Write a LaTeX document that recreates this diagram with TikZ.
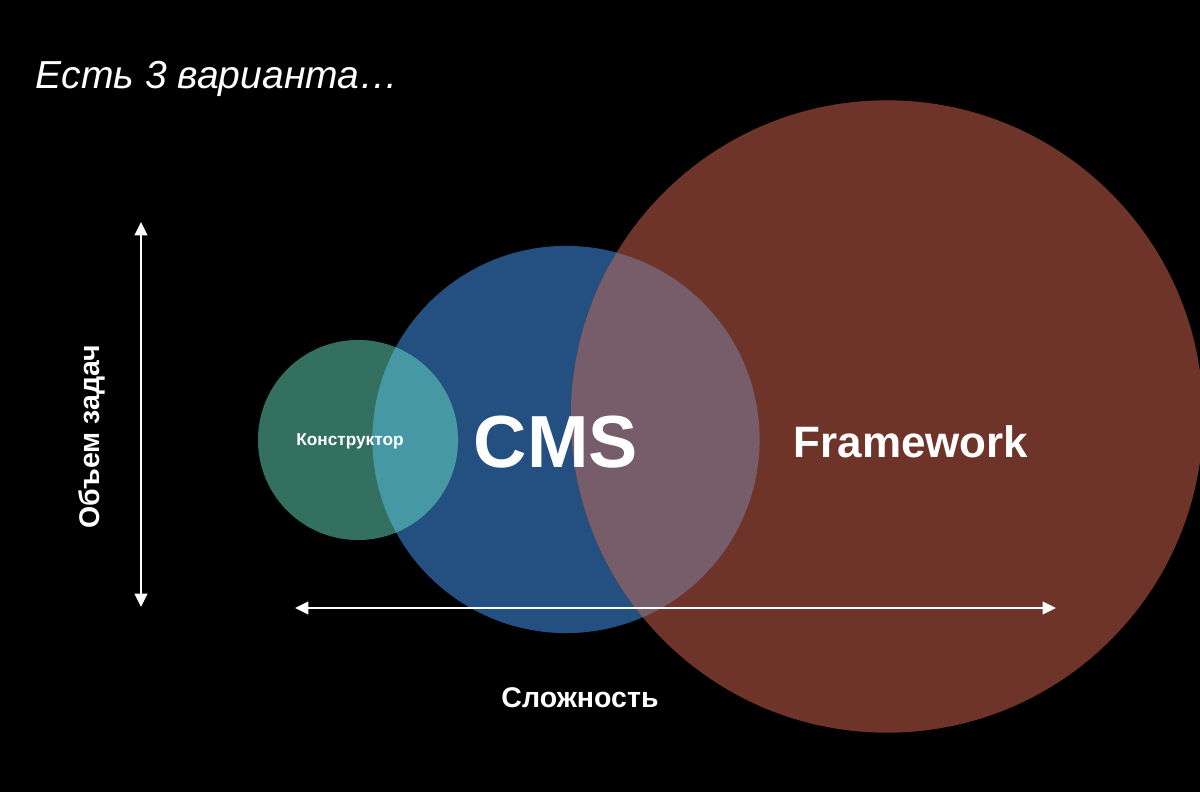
\documentclass[tikz,border=0pt]{standalone}
\usepackage{fontspec}
\setmainfont{Liberation Sans}
\usetikzlibrary{arrows.meta}
\definecolor{kongreen}{HTML}{347060}
\definecolor{cmsblue}{HTML}{235080}
\definecolor{fwred}{HTML}{6E3329}
\definecolor{konmix}{HTML}{4698A5}
\definecolor{fwmix}{HTML}{765D69}

\begin{document}
\begin{tikzpicture}[x=0.01cm,y=-0.01cm,
        axisline/.style={white,line width=0.6pt,{Triangle[length=3.8pt,width=3.6pt]}-{Triangle[length=3.8pt,width=3.6pt]}},
        lbl/.style={white,inner sep=0pt,anchor=base}]
        \useasboundingbox (0,0) rectangle (1200,792);
        \fill[black] (0,0) rectangle (1200,792);
        \clip (0,0) rectangle (1200,792);

        \coordinate (ckon) at (358,440);
        \coordinate (ccms) at (566,439.5);
        \coordinate (cfw) at (887,416.5);

        \fill[cmsblue] (ccms) circle[radius=1.935cm];
        \fill[kongreen] (ckon) circle[radius=1cm];
        \fill[fwred] (cfw) circle[radius=3.16cm];
        \begin{scope}
            \clip (ccms) circle[radius=1.935cm];
            \fill[konmix] (ckon) circle[radius=1cm];
            \fill[fwmix] (cfw) circle[radius=3.16cm];
        \end{scope}

        \node[lbl,anchor=base west,font=\itshape\fontsize{11.1}{12}\selectfont] (title) at (35,89) {Есть 3 варианта…};
        \node[lbl,font=\bfseries\fontsize{4.9}{5}\selectfont] (kon) at (350,446) {Конструктор};
        \node[lbl,font=\bfseries\fontsize{21}{22}\selectfont] (cms) at (556,468) {CMS};
        \node[lbl,font=\bfseries\fontsize{12.5}{13}\selectfont] (fw) at (911,458) {Framework};
        \node[lbl,font=\bfseries\fontsize{8.1}{9}\selectfont] (slozh) at (580,708) {Сложность};
        \node[lbl,rotate=90,font=\bfseries\fontsize{8.1}{9}\selectfont] (obem) at (100,437) {Объем задач};

        \coordinate (ytop) at (141,222);
        \coordinate (ybot) at (141,607);
        \coordinate (xleft) at (295,608);
        \coordinate (xright) at (1056,608);

        \draw[axisline] (ybot) -- (ytop);
        \draw[axisline] (xleft) -- (xright);
\end{tikzpicture}
\end{document}
